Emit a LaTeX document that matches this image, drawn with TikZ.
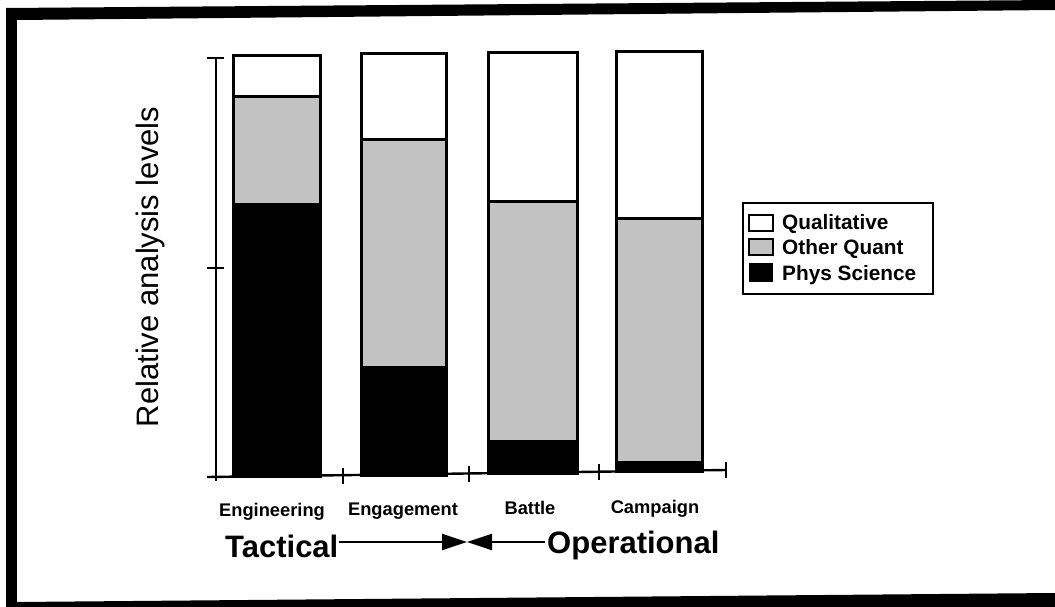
\documentclass[tikz,border=0pt]{standalone}
\usepackage{fontspec}
\setmainfont{Liberation Sans}
\usetikzlibrary{arrows.meta}
\definecolor{stip}{gray}{0.76}
\tikzset{
  framebar/.style={fill=black},
  barline/.style={line width=3pt},
  axisline/.style={line width=2.4pt},
  catlabel/.style={font=\bfseries\fontsize{18.3}{20}\selectfont, anchor=base, inner sep=0pt},
  biglabel/.style={font=\bfseries\fontsize{31}{34}\selectfont, inner sep=0pt},
  legtext/.style={font=\bfseries\fontsize{20.8}{22}\selectfont, anchor=base west, inner sep=0pt},
  swatch/.style={draw, line width=2pt},
  conn/.style={line width=2.4pt, -{Triangle[length=25pt,width=16pt]}},
}
\begin{document}
\begin{tikzpicture}[x=1pt,y=-1pt]
\useasboundingbox (0,0) rectangle (1055,607);
% frame
\fill[framebar] (6,8) -- (1055,0) -- (1055,10) -- (17,20) -- cycle;
\fill[framebar] (6,8) rectangle (17,607);
\fill[framebar] (6,607) -- (1055,607) -- (1055,593) -- (17,602) -- cycle;

% axes
\draw[axisline] (216,57) -- (216,481);
\draw[axisline] (207,58) -- (224,58);
\draw[axisline] (207,268) -- (224,268);
\draw[axisline] (207,477) -- (726,470);
\draw[axisline] (343,468) -- (343,484);
\draw[axisline] (469,466) -- (469,482);
\draw[axisline] (599,464) -- (599,480);
\draw[axisline] (726,462) -- (726,478);

% bars: x1 x2 top div1 div2 bottom
\foreach \xa/\xb/\ta/\da/\db/\ba in {233/320/56/97/203/476, 361/446/54/140/366/475, 488/577/53/201/440/473, 616/702/52/218/461/471}{
  \fill[white] (\xa,\ta) rectangle (\xb,\da);
  \fill[stip] (\xa,\da) rectangle (\xb,\db);
  \fill[black] (\xa,\db) rectangle (\xb,\ba);
  \draw[barline] (\xa,\da) -- (\xb,\da);
  \draw[barline] (\xa,\ta) rectangle (\xb,\ba);
}

% y label
\node[font=\fontsize{31}{34}\selectfont, rotate=90, inner sep=0pt] (ylab) at (150,267) {Relative analysis levels};

% category labels
\node[catlabel] (eng) at (272,516) {Engineering};
\node[catlabel] (enga) at (403,515) {Engagement};
\node[catlabel] (bat) at (530,514) {Battle};
\node[catlabel] (cam) at (655,513) {Campaign};

% tactical / operational
\node[biglabel, anchor=base west] (tac) at (225,557) {Tactical};
\node[biglabel, anchor=base west] (ope) at (547,553) {Operational};
\coordinate (meet) at (467,542);
\draw[conn] (tac.east |- meet) -- (meet);
\draw[conn] ([xshift=-2pt]ope.west |- meet) -- (meet);

% legend
\node[draw, line width=2.2pt, minimum width=190pt, minimum height=91pt, anchor=north west, inner sep=0pt] (leg) at (742,202) {};
\draw[swatch, fill=white] (749,215) rectangle (773,231);
\draw[swatch, fill=stip] (749,239) rectangle (773,255);
\fill[black] (749,263) rectangle (773,282);
\node[legtext] (lq) at (782,229) {Qualitative};
\node[legtext] (lo) at (782,254) {Other Quant};
\node[legtext] (lp) at (782,280) {Phys Science};
\end{tikzpicture}
\end{document}
